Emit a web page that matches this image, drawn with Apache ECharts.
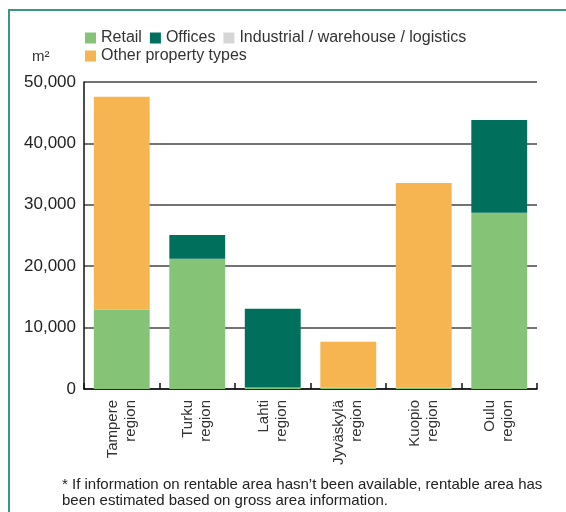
<!DOCTYPE html>
<html>
<head>
<meta charset="utf-8">
<script src="https://cdn.jsdelivr.net/npm/echarts@6/dist/echarts.min.js"></script>
<style>
  html, body { margin: 0; padding: 0; background: #fff; }
  #chart { width: 566px; height: 512px; }
</style>
</head>
<body>
<div id="chart"></div>
<script>
// regions on the x axis
const categories = ['Tampere\nregion', 'Turku\nregion', 'Lahti\nregion', 'Jyväskylä\nregion', 'Kuopio\nregion', 'Oulu\nregion']
// m2 per property type
const retail = [12900, 21200, 250, 250, 250, 28700]
const offices = [0, 3900, 12800, 0, 0, 15100]
const industrial = [0, 0, 0, 0, 0, 0]
const other = [34700, 0, 0, 7450, 33300, 0]
const yTicks = [0, 10000, 20000, 30000, 40000, 50000]

const colors = {
  retail: '#85c476',
  offices: '#006f5c',
  industrial: '#d6d6d6',
  other: '#f7b552'
}

let chart = echarts.init(document.getElementById('chart'))

let makeSeries = (name, data, color) => {
  return {
    name: name,
    type: 'bar',
    stack: 'total',
    data: data,
    barCategoryGap: '26%',
    itemStyle: {
      color: color
    }
  }
}

let legendText = {
  color: '#333',
  fontSize: 16,
  fontFamily: 'Liberation Sans'
}

let option = {
  animation: false,
  textStyle: {
    fontFamily: 'Liberation Sans'
  },
  grid: {
    left: 84,
    right: 29,
    top: 82,
    bottom: 123
  },
  legend: [{
    data: ['Retail', 'Offices', 'Industrial / warehouse / logistics'],
    left: 80,
    top: 25,
    itemWidth: 11,
    itemHeight: 11,
    itemGap: 8,
    icon: 'rect',
    textStyle: legendText
  }, {
    data: ['Other property types'],
    left: 80,
    top: 43,
    itemWidth: 11,
    itemHeight: 11,
    itemGap: 8,
    icon: 'rect',
    textStyle: legendText
  }],
  graphic: [{
    type: 'rect',
    shape: { x: 9, y: 10, width: 700, height: 700 },
    style: { fill: 'none', stroke: '#3a9787', lineWidth: 2 }
  }, {
    type: 'text',
    left: 32,
    top: 49,
    style: {
      text: 'm²',
      fontSize: 15,
      fill: '#333',
      fontFamily: 'Liberation Sans'
    }
  }, {
    type: 'text',
    left: 62,
    top: 477,
    style: {
      text: '* If information on rentable area hasn’t been available, rentable area has\nbeen estimated based on gross area information.',
      fontSize: 15,
      lineHeight: 16,
      fill: '#222',
      fontFamily: 'Liberation Sans'
    }
  }],
  xAxis: {
    type: 'category',
    data: categories,
    axisLine: {
      lineStyle: {
        color: '#111',
        width: 1.5
      }
    },
    axisTick: {
      show: true,
      inside: true,
      length: 6,
      lineStyle: {
        color: '#111',
        width: 1.5
      }
    },
    axisLabel: {
      rotate: 90,
      margin: 11,
      fontSize: 15,
      lineHeight: 18,
      color: '#333',
      interval: 0
    }
  },
  yAxis: {
    type: 'value',
    min: yTicks[0],
    max: yTicks[yTicks.length - 1],
    interval: 10000,
    axisLine: {
      show: true,
      lineStyle: {
        color: '#111',
        width: 1.5
      }
    },
    axisTick: {
      show: false
    },
    splitLine: {
      show: true,
      lineStyle: {
        color: '#444',
        width: 1.5
      }
    },
    axisLabel: {
      margin: 8,
      fontSize: 17,
      color: '#222',
      formatter (v) {
        return v.toLocaleString('en-US')
      }
    }
  },
  series: [
    makeSeries('Retail', retail, colors.retail),
    makeSeries('Offices', offices, colors.offices),
    makeSeries('Industrial / warehouse / logistics', industrial, colors.industrial),
    makeSeries('Other property types', other, colors.other)
  ]
}

chart.setOption(option)
</script>
</body>
</html>
